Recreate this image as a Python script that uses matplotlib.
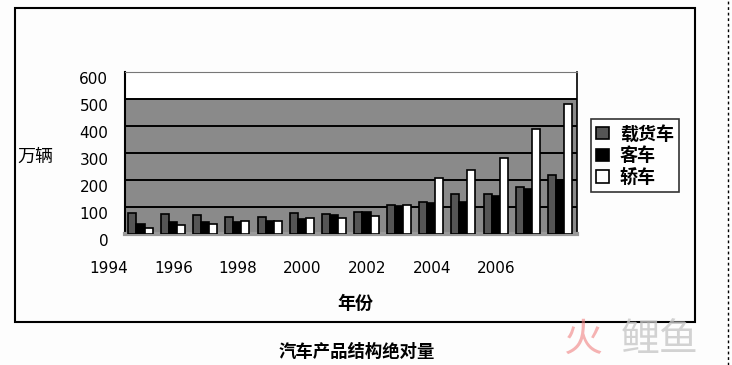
import matplotlib.pyplot as plt
import matplotlib.transforms as mtransforms
from matplotlib.patches import Rectangle
from matplotlib.lines import Line2D
import numpy as np

plt.rcParams['font.family'] = ['Noto Sans CJK SC', 'DejaVu Sans']

# data (万辆)
years = list(range(1994, 2008))
trucks = [79, 74, 70, 64, 64, 78, 74, 80, 107, 118, 149, 149, 175, 218]
buses = [37, 44, 44, 46, 47, 54, 71, 80, 104, 116, 120, 141, 167, 200]
cars = [22, 33, 38, 49, 49, 58, 59, 67, 107, 206, 237, 280, 389, 480]
series_names = ["载货车", "客车", "轿车"]
tick_years = [1994, 1996, 1998, 2000, 2002, 2004, 2006]

fig = plt.figure(figsize=(7.32, 3.65), dpi=100)
fig.patch.set_facecolor("#fdfdfd")

ax = fig.add_axes([125 / 732, 131 / 365, 452 / 732, 162 / 365])
ax.set_facecolor("white")
ax.axhspan(0, 500, color="#8a8a8a", zorder=0)
for v in range(100, 600, 100):
    ax.axhline(v, color="black", lw=1.4, zorder=1)

x = np.array(years)
w = 0.25
colors = ["#555555", "black", "white"]
handles = []
for vals, off, c, name in zip([trucks, buses, cars], [-0.27, -0.02, 0.23], colors, series_names):
    b = ax.bar(x + off, vals, width=w, color=c, edgecolor="black", linewidth=1.2,
               zorder=3, label=name)
    handles.append(b)

ax.set_xlim(1993.5, 2007.5)
ax.set_ylim(0, 600)
ax.set_yticks(range(0, 700, 100))
ax.set_xticks([])
ax.tick_params(axis="y", length=0, pad=12)
shift = mtransforms.ScaledTranslation(0, -6 / 100, fig.dpi_scale_trans)
for lab in ax.get_yticklabels():
    lab.set_transform(lab.get_transform() + shift)
    lab.set_family("DejaVu Sans")
    lab.set_fontsize(11)

ax.spines["top"].set_color("#777777")
ax.spines["left"].set_linewidth(1.5)
ax.spines["right"].set_linewidth(1.2)
ax.spines["bottom"].set_color("#999999")
ax.spines["bottom"].set_linewidth(3)

# year labels (shifted one category left, as in the original)
trans = mtransforms.blended_transform_factory(ax.transData, ax.transAxes)
for yr in tick_years:
    ax.text(yr - 1, -0.21, str(yr), transform=trans, ha="center", va="center",
            fontsize=11, family="DejaVu Sans", clip_on=False)

fig.text(17 / 732, 1 - 157 / 365, "万辆", ha="left", va="center", fontsize=13)
fig.text(355 / 732, 1 - 303 / 365, "年份", ha="center", va="center", fontsize=13,
         fontweight="bold")
fig.text(357 / 732, 1 - 352 / 365, "汽车产品结构绝对量", ha="center", va="center",
         fontsize=12.5, fontweight="bold")

leg = fig.legend(handles=handles, loc="upper left",
                 bbox_to_anchor=(582 / 732, 1 - 110 / 365),
                 prop={"size": 13, "weight": "bold"},
                 frameon=True, fancybox=False, edgecolor="black",
                 handlelength=0.7, handleheight=0.7, handletextpad=0.6,
                 borderpad=0.3, labelspacing=0.15)
leg.get_frame().set_linewidth(1.2)

# outer chart frame
fig.add_artist(Rectangle((15 / 732, 1 - 322 / 365), 680 / 732, 314 / 365,
                         transform=fig.transFigure, fill=False, edgecolor="black",
                         lw=1.5))
fig.add_artist(Line2D([728 / 732, 728 / 732], [0, 1], transform=fig.transFigure,
                      color="black", lw=1, ls=(0, (2, 2))))

# watermark
fig.text(582 / 732, 1 - 340 / 365, "火", color="#f08080", fontsize=28,
         ha="center", va="center", alpha=0.6)
fig.text(660 / 732, 1 - 340 / 365, "鲤鱼", color="#c8c8c8", fontsize=28,
         ha="center", va="center", alpha=0.8)

fig.savefig("out.png", dpi=100, facecolor=fig.get_facecolor())
